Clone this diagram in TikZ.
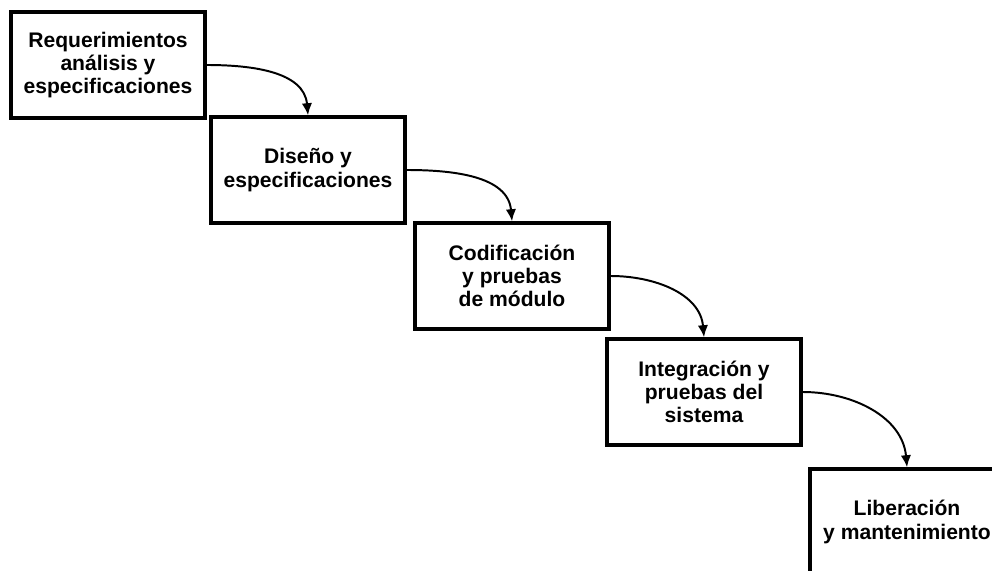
\documentclass[tikz,border=0pt]{standalone}
\usepackage{fontspec}
\setmainfont{Liberation Sans}
\usetikzlibrary{arrows.meta, positioning}

\begin{document}
\begin{tikzpicture}[
    x=0.025cm, y=-0.025cm,
    stepbox/.style={rectangle, draw, line width=2.5pt, minimum width=4.85cm, minimum height=2.65cm, align=center, inner sep=0pt, font=\fontsize{15}{16.5}\selectfont\bfseries},
    arrow/.style={-{Latex[length=3mm, width=2.6mm]}, line width=1.4pt}
]
    \useasboundingbox (0,0) rectangle (992,571);
    \clip (0,0) rectangle (992,571);

    % Step 1
    \node[stepbox] (s1) at (108, 65) {Requerimientos\\análisis y\\especificaciones};

    % Step 2
    \node[stepbox] (s2) at (308, 170) {Diseño y\\especificaciones};
    \draw[arrow] (s1.east) to[out=0, in=95] (s2.north);

    % Step 3
    \node[stepbox] (s3) at (512, 276) {Codificación\\y pruebas\\de módulo};
    \draw[arrow] (s2.east) to[out=0, in=95] (s3.north);

    % Step 4
    \node[stepbox] (s4) at (704, 392) {Integración y\\pruebas del\\sistema};
    \draw[arrow] (s3.east) to[out=0, in=95] (s4.north);

    % Step 5 (cut off at the page edge)
    \node[stepbox] (s5) at (907, 522) {Liberación\\y mantenimiento};
    \draw[arrow] (s4.east) to[out=0, in=95] (s5.north);
\end{tikzpicture}
\end{document}
